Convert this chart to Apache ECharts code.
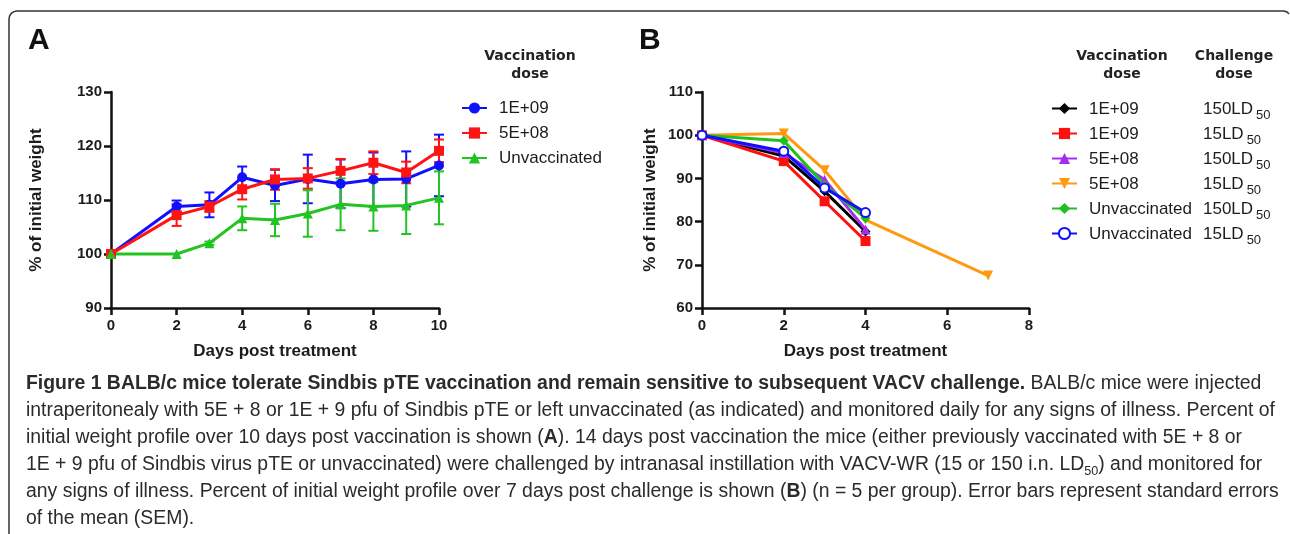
<!DOCTYPE html>
<html>
<head>
<meta charset="utf-8">
<title>Figure 1</title>
<script src="https://cdn.jsdelivr.net/npm/echarts@6/dist/echarts.min.js"></script>
<style>
    html, body { margin: 0; padding: 0; background: #fff; }
    #chart { width: 1290px; height: 534px; }
</style>
</head>
<body>
<div id="chart"></div>
<script>
    // panel A: % of initial weight after vaccination (mean, SEM)
    var daysA = [0, 2, 3, 4, 5, 6, 7, 8, 9, 10];
    var namesA = ['1E+09', '5E+08', 'Unvaccinated'];
    var mean1e9 = [100, 108.8, 109.1, 114.2, 112.7, 113.9, 113.0, 113.8, 113.9, 116.4];
    var sem1e9 = [0, 1.1, 2.3, 2.0, 2.9, 4.5, 4.5, 5.0, 5.1, 5.7];
    var mean5e8 = [100, 107.2, 108.8, 112.0, 113.8, 114.0, 115.4, 116.9, 115.1, 119.1];
    var sem5e8 = [0, 2.0, 1.0, 1.9, 1.9, 1.9, 2.2, 2.1, 2.0, 2.1];
    var meanUnv = [100, 100, 102.0, 106.6, 106.3, 107.5, 109.2, 108.8, 109.0, 110.4];
    var semUnv = [0, 0, 0.3, 2.2, 3.0, 4.3, 4.8, 4.5, 5.3, 4.9];

    // panel B: % of initial weight after challenge
    var daysB = [0, 2, 3, 4];
    var daysBlong = [0, 2, 3, 4, 7];
    var vaccB = ['1E+09', '1E+09', '5E+08', '5E+08', 'Unvaccinated', 'Unvaccinated'];
    var challB = ['150', '15', '150', '15', '150', '15'];
    var b1e9_150 = [100, 95.2, 87.0, 77.7];
    var b1e9_15 = [100, 94.0, 84.7, 75.5];
    var b5e8_150 = [100, 95.9, 89.7, 78.2];
    var b5e8_15 = [100, 100.4, 91.9, 80.4, 67.5];
    var bUnv_150 = [100, 98.7, 88.5, 80.8];
    var bUnv_15 = [100, 96.3, 87.8, 82.1];

    var captionLines = [
        '{b|Figure 1 BALB/c mice tolerate Sindbis pTE vaccination and remain sensitive to subsequent VACV challenge.}{n| BALB/c mice were injected}',
        '{n|intraperitonealy with 5E + 8 or 1E + 9 pfu of Sindbis pTE or left unvaccinated (as indicated) and monitored daily for any signs of illness. Percent of}',
        '{n|initial weight profile over 10 days post vaccination is shown (}{b|A}{n|). 14 days post vaccination the mice (either previously vaccinated with 5E + 8 or}',
        '{n|1E + 9 pfu of Sindbis virus pTE or unvaccinated) were challenged by intranasal instillation with VACV-WR (15 or 150 i.n. LD}{s|50}{n|) and monitored for}',
        '{n|any signs of illness. Percent of initial weight profile over 7 days post challenge is shown (}{b|B}{n|) (n = 5 per group). Error bars represent standard errors}',
        '{n|of the mean (SEM).}'
    ];

    var font = "'Liberation Sans', Arial, sans-serif";
    var ink = '#1c1c1c';

    // caption is drawn in a squeezed sans so the second line spans the caption width
    var capSize = 20;
    var ctx = document.createElement('canvas').getContext('2d');
    ctx.font = capSize + 'px ' + font;
    var plain = captionLines[1].replace(/\{n\||\}/g, '');
    var capScale = 1249 / ctx.measureText(plain).width;

    function pairs(xs, ys) {
        return ys.map(function (v, i) { return [xs[i], v]; });
    }
    function triples(xs, ys, es) {
        return ys.map(function (v, i) { return [xs[i], v, es[i]]; });
    }

    function errorBars(params, api) {
        var x = api.value(0), m = api.value(1), s = api.value(2);
        if (!s) return null;
        var top = api.coord([x, m + s]);
        var bot = api.coord([x, m - s]);
        var st = {stroke: api.visual('color'), lineWidth: 2};
        return {
            type: 'group', children: [
                {type: 'line', shape: {x1: top[0], y1: top[1], x2: bot[0], y2: bot[1]}, style: st},
                {type: 'line', shape: {x1: top[0] - 5, y1: top[1], x2: top[0] + 5, y2: top[1]}, style: st},
                {type: 'line', shape: {x1: bot[0] - 5, y1: bot[1], x2: bot[0] + 5, y2: bot[1]}, style: st}
            ]
        };
    }

    function xAxis(grid, max) {
        return {
            type: 'value', gridIndex: grid, min: 0, max: max, interval: 2,
            axisLine: {show: true, onZero: false, lineStyle: {color: '#111', width: 2.5}},
            axisTick: {show: true, length: 7, lineStyle: {color: '#111', width: 2.5}},
            axisLabel: {fontFamily: font, fontWeight: 'bold', fontSize: 15, color: ink, margin: 10},
            splitLine: {show: false},
            name: 'Days post treatment', nameLocation: 'middle', nameGap: 35,
            nameTextStyle: {fontFamily: font, fontWeight: 'bold', fontSize: 17, color: ink}
        };
    }
    function yAxis(grid, min, max, gap) {
        return {
            type: 'value', gridIndex: grid, min: min, max: max, interval: 10,
            axisLine: {show: true, onZero: false, lineStyle: {color: '#111', width: 2.5}},
            axisTick: {show: true, length: 7, lineStyle: {color: '#111', width: 2.5}},
            axisLabel: {fontFamily: font, fontWeight: 'bold', fontSize: 15, color: ink, margin: 9},
            splitLine: {show: false},
            name: '% of initial weight', nameLocation: 'middle', nameGap: gap, nameRotate: 90,
            nameTextStyle: {fontFamily: font, fontWeight: 'bold', fontSize: 17, color: ink}
        };
    }

    function lineA(name, data, color, symbol, xi) {
        return {
            name: name, type: 'line', xAxisIndex: xi, yAxisIndex: xi, data: data,
            symbol: symbol, symbolSize: 10,
            lineStyle: {color: color, width: 3}, itemStyle: {color: color}
        };
    }
    function errA(data, color) {
        return {
            name: 'err', type: 'custom', xAxisIndex: 0, yAxisIndex: 0,
            renderItem: errorBars, data: data, encode: {x: 0, y: 1},
            itemStyle: {color: color}
        };
    }

    var colorsA = ['#1010ff', '#ff1414', '#22c322'];
    var colorsB = ['#000000', '#ff1010', '#a62cf2', '#ff9a10', '#1fc11f', '#1010ff'];
    var symbolsB = ['diamond', 'rect', 'triangle', 'triangle', 'diamond', 'emptyCircle'];
    var dataB = [
        pairs(daysB, b1e9_150), pairs(daysB, b1e9_15), pairs(daysB, b5e8_150),
        pairs(daysBlong, b5e8_15), pairs(daysB, bUnv_150), pairs(daysB, bUnv_15)
    ];
    var namesB = vaccB.map(function (v, i) { return v + ' / ' + challB[i]; });

    var series = [
        errA(triples(daysA, mean1e9, sem1e9), colorsA[0]),
        lineA(namesA[0], pairs(daysA, mean1e9), colorsA[0], 'circle', 0),
        errA(triples(daysA, mean5e8, sem5e8), colorsA[1]),
        lineA(namesA[1], pairs(daysA, mean5e8), colorsA[1], 'rect', 0),
        errA(triples(daysA, meanUnv, semUnv), colorsA[2]),
        lineA(namesA[2], pairs(daysA, meanUnv), colorsA[2], 'triangle', 0)
    ];
    namesB.forEach(function (n, i) {
        var s = lineA(n, dataB[i], colorsB[i], symbolsB[i], 1);
        s.symbolSize = symbolsB[i] === 'emptyCircle' ? 9 : 10;
        if (i === 3) s.symbolRotate = 180;
        if (symbolsB[i] === 'emptyCircle') s.itemStyle.borderWidth = 2;
        series.push(s);
    });

    var legendText = {fontFamily: font, fontSize: 17, color: ink, lineHeight: 20, padding: [0, 0, 0, 7]};

    var graphics = [
        {type: 'polyline', shape: {points: [[9, 534], [9, 19], [9.6, 16], [11.3, 13.3], [14, 11.6], [17, 11], [1284, 11], [1287, 12], [1289, 14]]},
            style: {fill: null, stroke: '#333', lineWidth: 1.5}},
        {type: 'text', x: 28, y: 41, style: {text: 'A', font: 'bold 30px ' + font, fill: '#111', verticalAlign: 'middle'}},
        {type: 'text', x: 639, y: 41, style: {text: 'B', font: 'bold 30px ' + font, fill: '#111', verticalAlign: 'middle'}},
        {type: 'text', x: 530, y: 47, style: {text: 'Vaccination\ndose', font: "bold 14px 'DejaVu Sans'", lineHeight: 18, fill: '#222', align: 'center'}},
        {type: 'text', x: 1122, y: 47, style: {text: 'Vaccination\ndose', font: "bold 14px 'DejaVu Sans'", lineHeight: 18, fill: '#222', align: 'center'}},
        {type: 'text', x: 1234, y: 47, style: {text: 'Challenge\ndose', font: "bold 14px 'DejaVu Sans'", lineHeight: 18, fill: '#222', align: 'center'}}
    ];
    var capLH = capSize * 1.2;
    var capColor = '#2b2b2b';
    captionLines.forEach(function (t, i) {
        graphics.push({
            type: 'text', x: 26, y: 385 + i * 27 - capLH / 2, scaleX: capScale,
            style: {
                text: t,
                rich: {
                    n: {fontFamily: font, fontSize: capSize, lineHeight: capLH, fill: capColor, verticalAlign: 'top'},
                    b: {fontFamily: font, fontSize: capSize, lineHeight: capLH, fill: capColor, fontWeight: 'bold', verticalAlign: 'top'},
                    s: {fontFamily: font, fontSize: capSize * 0.65, lineHeight: capSize * 0.7, padding: [capSize * 0.55, 0, 0, 0], fill: capColor, verticalAlign: 'top'}
                }
            }
        });
    });

    var chart = echarts.init(document.getElementById('chart'));
    chart.setOption({
        animation: false,
        grid: [
            {left: 111, top: 92, width: 328, height: 216},
            {left: 702, top: 92, width: 327, height: 216}
        ],
        xAxis: [xAxis(0, 10), xAxis(1, 8)],
        yAxis: [yAxis(0, 90, 130, 66), yAxis(1, 60, 110, 43)],
        legend: [
            {
                data: namesA, orient: 'vertical', left: 461, top: 98, padding: 0,
                itemWidth: 25, itemHeight: 14, itemGap: 5, selectedMode: false, textStyle: legendText
            },
            {
                data: namesB, orient: 'vertical', left: 1051, top: 98.5, padding: 0,
                itemWidth: 25, itemHeight: 14, itemGap: 2, selectedMode: false,
                formatter: function (n) {
                    var p = n.split(' / ');
                    return '{a|' + p[0] + '}{b|' + p[1] + 'LD}{c|50}';
                },
                textStyle: {
                    fontFamily: font, fontSize: 17, color: ink, padding: [0, 0, 0, 7],
                    rich: {
                        a: {fontFamily: font, fontSize: 17, color: ink, width: 114, lineHeight: 20, padding: [2, 0, 0, 0], verticalAlign: 'top'},
                        b: {fontFamily: font, fontSize: 17, color: ink, lineHeight: 20, padding: [2, 0, 0, 0], verticalAlign: 'top'},
                        c: {fontFamily: font, fontSize: 13, color: ink, lineHeight: 14, padding: [10, 0, 0, 3], verticalAlign: 'top'}
                    }
                }
            }
        ],
        series: series,
        graphic: graphics
    });
</script>
</body>
</html>
